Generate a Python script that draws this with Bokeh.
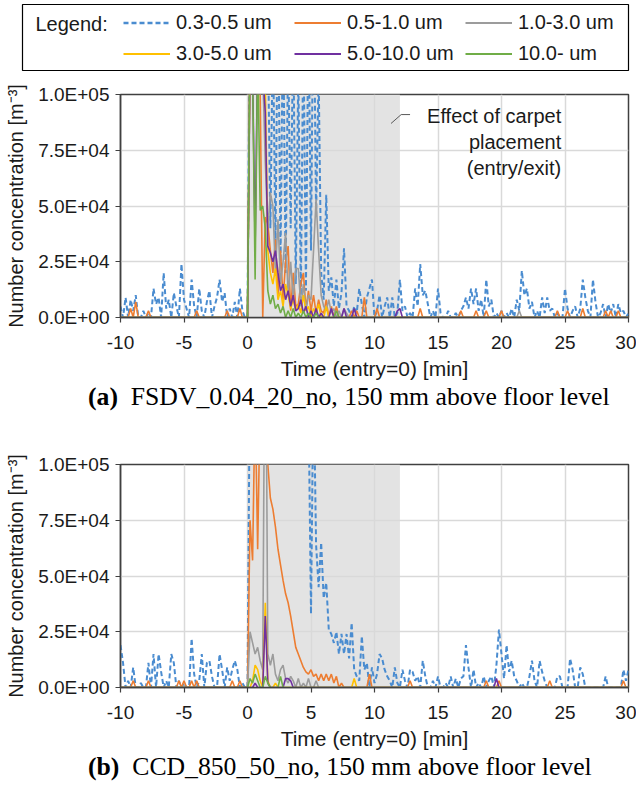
import numpy as np
from bokeh.plotting import figure
from bokeh.models import (ColumnDataSource, FixedTicker, Legend, LegendItem,
                          Label, Range1d, Div)
from bokeh.layouts import column
from bokeh.embed import file_html
from bokeh.resources import INLINE

# ---------------- data (values in thousands of particles per m3) -------------
T_START = -10.0   # min
T_STEP = 0.2      # min, sampling interval
N = 201

series_names = ["0.3-0.5 um", "0.5-1.0 um", "1.0-3.0 um",
                "3.0-5.0 um", "5.0-10.0 um", "10.0- um"]
series_colors = ["#4A8CD0", "#ED7D31", "#9C9C9C", "#FFC000", "#7030A0", "#70AD47"]
series_dash = ["5 3", "solid", "solid", "solid", "solid", "solid"]
series_width = [2.0, 1.6, 1.6, 1.6, 1.6, 1.6]

x_ticks = [-10, -5, 0, 5, 10, 15, 20, 25, 30]
x_tick_labels = ["-10", "-5", "0", "5", "10", "15", "20", "25", "30"]
y_ticks = [0, 25000, 50000, 75000, 100000]
y_tick_labels = ["0.0E+00", "2.5E+04", "5.0E+04", "7.5E+04", "1.0E+05"]

shade_start = [0]
shade_end = [12]

# ---- (a) FSDV_0.04_20_no ----
a_03_05 = [
    5, 0, 9, 0, 8, 3, 10, 0, 0, 3,
    0, 2, 0, 13, 6, 9, 0, 20, 4, 8,
    0, 11, 5, 0, 24, 8, 4, 0, 17, 5,
    0, 13, 3, 0, 7, 12, 0, 5, 9, 17,
    7, 11, 0, 4, 0, 7, 0, 13, 3, 0,
    0, 150, 200, 180, 160, 150, 170, 140, 130, 40,
    130, 32, 150, 25, 140, 20, 120, 40, 130, 15,
    110, 10, 130, 12, 140, 30, 160, 45, 110, 20,
    8, 55, 12, 18, 5, 17, 4, 11, 31, 5,
    3, 0, 5, 2, 13, 6, 0, 9, 13, 17,
    0, 3, 10, 0, 5, 9, 0, 9, 0, 2,
    17, 3, 5, 0, 2, 0, 13, 5, 24, 10,
    12, 6, 0, 3, 0, 13, 2, 0, 0, 3,
    0, 0, 2, 0, 3, 5, 9, 4, 13, 6,
    13, 3, 8, 0, 17, 5, 8, 0, 2, 0,
    3, 0, 2, 0, 4, 0, 8, 3, 21, 10,
    13, 4, 7, 0, 3, 0, 9, 2, 9, 3,
    4, 0, 2, 0, 0, 13, 4, 0, 3, 5,
    0, 4, 17, 9, 3, 0, 17, 7, 0, 2,
    6, 0, 6, 2, 6, 0, 6, 2, 3, 0,
    2]
a_05_10 = [
    0, 0, 0, 0, 4, 0, 7, 0, 0, 0,
    0, 3, 0, 0, 0, 0, 0, 0, 0, 0,
    0, 0, 0, 0, 0, 0, 0, 0, 0, 0,
    3, 0, 0, 0, 0, 0, 0, 0, 0, 0,
    0, 0, 3, 0, 0, 0, 0, 4, 0, 0,
    0, 120, 150, 130, 110, 100, 0, 45, 42, 30,
    20, 35, 10, 30, 8, 25, 32, 3, 20, 5,
    6, 15, 20, 4, 12, 3, 10, 2, 8, 3,
    2, 8, 0, 5, 0, 5, 0, 0, 0, 0,
    0, 3, 0, 3, 0, 0, 9, 0, 0, 0,
    0, 4, 0, 0, 0, 0, 0, 0, 0, 0,
    0, 0, 0, 0, 0, 0, 0, 0, 4, 0,
    0, 0, 0, 0, 0, 0, 0, 0, 0, 0,
    0, 0, 0, 0, 3, 0, 0, 0, 0, 0,
    3, 0, 0, 0, 3, 0, 0, 0, 0, 0,
    3, 0, 0, 0, 0, 0, 0, 0, 0, 0,
    0, 0, 0, 0, 0, 0, 0, 0, 0, 0,
    0, 0, 3, 0, 0, 0, 3, 0, 0, 0,
    0, 0, 4, 0, 0, 0, 0, 0, 0, 0,
    0, 3, 0, 3, 0, 0, 3, 0, 0, 0,
    0]
a_10_30 = [
    0, 0, 0, 0, 0, 0, 0, 0, 0, 0,
    0, 0, 0, 0, 0, 0, 0, 0, 0, 0,
    0, 0, 0, 0, 0, 0, 0, 0, 0, 0,
    0, 0, 0, 0, 0, 0, 0, 0, 0, 0,
    0, 0, 0, 0, 0, 0, 0, 0, 0, 0,
    0, 110, 130, 120, 105, 100, 110, 70, 40, 56,
    50, 20, 44, 15, 25, 38, 10, 25, 8, 22,
    22, 5, 15, 3, 10, 8, 30, 53, 30, 10,
    5, 3, 8, 2, 4, 0, 3, 0, 4, 2,
    0, 0, 0, 0, 0, 0, 0, 0, 0, 0,
    0, 0, 0, 0, 0, 0, 0, 0, 0, 0,
    0, 0, 0, 0, 0, 0, 0, 0, 0, 0,
    0, 0, 0, 0, 0, 0, 0, 0, 0, 0,
    0, 0, 0, 0, 0, 0, 0, 0, 0, 0,
    0, 0, 0, 0, 0, 0, 0, 0, 0, 0,
    0, 0, 0, 0, 0, 0, 0, 3, 0, 0,
    0, 0, 0, 0, 0, 0, 0, 0, 0, 0,
    0, 0, 0, 0, 0, 0, 0, 0, 0, 0,
    0, 0, 0, 0, 0, 0, 0, 0, 0, 0,
    0, 0, 0, 0, 0, 0, 0, 0, 0, 0,
    0]
a_30_50 = [
    0, 0, 0, 0, 0, 0, 0, 0, 0, 0,
    0, 0, 0, 0, 0, 0, 0, 0, 0, 0,
    0, 0, 0, 0, 0, 0, 0, 0, 0, 0,
    0, 0, 0, 0, 0, 0, 0, 0, 0, 0,
    0, 0, 0, 0, 0, 0, 0, 0, 0, 0,
    0, 120, 140, 110, 100, 115, 120, 105, 30, 20,
    15, 22, 8, 12, 5, 15, 10, 4, 8, 3,
    6, 2, 10, 3, 5, 0, 4, 2, 6, 0,
    0, 5, 0, 0, 0, 0, 0, 0, 0, 0,
    0, 0, 0, 0, 0, 0, 0, 0, 0, 0,
    0, 0, 0, 0, 0, 0, 0, 0, 0, 0,
    0, 0, 0, 0, 0, 0, 0, 0, 0, 0,
    0, 0, 0, 0, 0, 0, 0, 0, 0, 0,
    0, 0, 0, 0, 0, 0, 0, 0, 0, 0,
    0, 0, 0, 0, 0, 0, 0, 0, 0, 0,
    0, 0, 0, 0, 0, 0, 0, 0, 0, 0,
    0, 0, 0, 0, 0, 0, 0, 0, 0, 0,
    0, 0, 0, 0, 0, 0, 0, 0, 0, 0,
    0, 0, 0, 0, 0, 0, 0, 0, 0, 0,
    0, 0, 0, 0, 0, 0, 0, 0, 0, 0,
    0]
a_50_100 = [
    0, 0, 0, 0, 0, 0, 0, 0, 0, 0,
    0, 0, 0, 0, 0, 0, 0, 0, 0, 0,
    0, 0, 0, 0, 0, 0, 0, 0, 0, 0,
    0, 0, 0, 0, 0, 0, 0, 0, 0, 0,
    0, 0, 0, 0, 0, 0, 0, 0, 0, 0,
    0, 120, 110, 32, 120, 130, 110, 92, 32, 29,
    25, 30, 20, 12, 15, 8, 12, 5, 10, 3,
    4, 8, 2, 5, 0, 3, 0, 4, 0, 2,
    0, 0, 0, 4, 0, 0, 0, 0, 4, 0,
    0, 0, 4, 0, 0, 0, 0, 0, 0, 0,
    0, 0, 0, 0, 0, 0, 0, 0, 0, 3,
    4, 0, 0, 0, 0, 0, 0, 0, 0, 0,
    0, 0, 0, 0, 0, 0, 0, 0, 0, 0,
    0, 0, 0, 0, 0, 0, 0, 0, 0, 0,
    0, 0, 0, 0, 0, 0, 0, 0, 0, 0,
    0, 0, 0, 0, 0, 0, 0, 0, 0, 0,
    0, 0, 0, 0, 0, 0, 0, 0, 0, 0,
    0, 0, 0, 0, 0, 0, 0, 0, 0, 0,
    0, 0, 0, 0, 0, 0, 0, 0, 0, 0,
    0, 0, 0, 0, 0, 0, 0, 0, 0, 0,
    0]
a_100_up = [
    0, 0, 0, 0, 0, 0, 0, 0, 0, 0,
    0, 0, 0, 0, 0, 0, 0, 0, 0, 0,
    0, 0, 0, 0, 0, 0, 0, 0, 0, 0,
    0, 0, 0, 0, 0, 0, 0, 0, 0, 0,
    0, 0, 0, 0, 0, 0, 0, 0, 0, 0,
    0, 130, 110, 17, 120, 48, 50, 40, 12, 6,
    10, 4, 6, 2, 5, 0, 3, 0, 4, 0,
    2, 0, 3, 0, 2, 0, 0, 2, 0, 0,
    0, 0, 0, 0, 0, 3, 0, 0, 0, 0,
    0, 0, 0, 0, 0, 0, 0, 0, 0, 0,
    0, 0, 0, 0, 0, 0, 0, 0, 0, 0,
    0, 0, 0, 0, 0, 0, 0, 0, 0, 0,
    0, 0, 0, 0, 0, 0, 0, 0, 0, 0,
    0, 0, 0, 0, 0, 0, 0, 0, 0, 0,
    0, 0, 0, 0, 0, 0, 0, 0, 0, 0,
    0, 0, 0, 0, 0, 0, 0, 0, 0, 0,
    0, 0, 0, 0, 0, 0, 0, 0, 0, 0,
    0, 0, 0, 0, 0, 0, 0, 0, 0, 0,
    0, 0, 0, 0, 0, 0, 0, 0, 0, 0,
    0, 0, 0, 0, 0, 0, 0, 0, 0, 0,
    0]

# ---- (b) CCD_850_50_no ----
b_03_05 = [
    19, 11, 0, 3, 0, 9, 0, 0, 2, 0,
    0, 11, 0, 15, 0, 15, 7, 0, 3, 0,
    15, 11, 0, 3, 0, 2, 0, 0, 22, 6,
    0, 3, 15, 0, 11, 12, 5, 0, 0, 15,
    8, 0, 9, 3, 8, 12, 8, 0, 2, 0,
    0, 150, 200, 200, 200, 200, 200, 200, 200, 200,
    200, 200, 200, 200, 200, 200, 200, 200, 200, 200,
    200, 200, 200, 200, 130, 33, 140, 64, 45, 65,
    40, 47, 26, 24, 20, 25, 15, 24, 15, 24,
    13, 29, 8, 5, 3, 23, 8, 11, 0, 9,
    2, 6, 15, 13, 8, 5, 3, 0, 9, 2,
    0, 8, 3, 0, 8, 7, 3, 5, 0, 12,
    5, 0, 0, 3, 0, 5, 0, 0, 2, 0,
    5, 0, 4, 0, 4, 5, 19, 9, 0, 8,
    0, 2, 0, 5, 0, 3, 5, 0, 10, 26,
    15, 4, 19, 7, 12, 5, 3, 0, 2, 0,
    0, 5, 12, 3, 0, 12, 7, 3, 0, 0,
    0, 0, 5, 5, 0, 0, 0, 13, 8, 0,
    0, 9, 6, 0, 0, 0, 0, 0, 0, 0,
    0, 5, 0, 0, 0, 0, 0, 0, 8, 3,
    8]
b_05_10 = [
    0, 0, 0, 0, 0, 3, 0, 0, 0, 0,
    0, 3, 0, 0, 0, 0, 0, 0, 0, 0,
    0, 0, 0, 3, 0, 3, 0, 0, 3, 0,
    3, 0, 0, 0, 0, 0, 0, 0, 0, 0,
    0, 0, 0, 0, 3, 0, 0, 3, 0, 0,
    0, 75, 57, 130, 62, 130, 120, 110, 100, 85,
    80, 72, 62, 55, 48, 42, 38, 32, 25, 18,
    15, 12, 9, 7, 6, 8, 5, 6, 3, 6,
    3, 6, 3, 6, 2, 5, 0, 2, 0, 0,
    0, 0, 0, 0, 0, 0, 0, 0, 6, 0,
    0, 0, 0, 0, 0, 0, 0, 0, 0, 0,
    0, 0, 0, 0, 3, 0, 0, 0, 0, 0,
    0, 0, 0, 0, 0, 0, 0, 0, 0, 0,
    0, 0, 0, 0, 0, 0, 0, 0, 0, 0,
    0, 0, 0, 0, 3, 0, 0, 0, 0, 3,
    0, 0, 0, 0, 0, 0, 0, 0, 0, 0,
    0, 0, 0, 0, 0, 0, 0, 0, 0, 3,
    0, 0, 0, 0, 0, 0, 0, 0, 0, 0,
    0, 0, 0, 0, 0, 0, 0, 0, 0, 0,
    0, 0, 0, 0, 0, 0, 0, 0, 3, 0,
    0]
b_10_30 = [
    0, 0, 0, 0, 0, 0, 0, 0, 0, 0,
    0, 0, 0, 0, 0, 0, 0, 0, 0, 0,
    0, 0, 0, 0, 0, 0, 0, 0, 0, 0,
    0, 0, 0, 0, 0, 0, 0, 0, 0, 0,
    0, 0, 0, 0, 0, 0, 0, 0, 0, 0,
    0, 25, 20, 15, 18, 12, 8, 200, 15, 10,
    15, 6, 3, 8, 10, 4, 2, 5, 3, 0,
    4, 0, 2, 0, 4, 0, 0, 3, 0, 0,
    0, 0, 0, 0, 0, 0, 0, 0, 0, 0,
    0, 0, 0, 0, 0, 0, 0, 0, 0, 0,
    0, 0, 0, 0, 0, 0, 0, 0, 0, 0,
    0, 0, 0, 0, 0, 0, 0, 0, 0, 0,
    0, 0, 0, 0, 0, 0, 0, 0, 0, 0,
    0, 0, 0, 0, 0, 0, 0, 0, 0, 0,
    0, 0, 0, 0, 0, 0, 0, 0, 0, 0,
    0, 0, 0, 0, 0, 0, 0, 0, 0, 0,
    0, 0, 0, 0, 0, 0, 0, 0, 0, 0,
    0, 0, 0, 0, 0, 0, 0, 0, 0, 0,
    0, 0, 0, 0, 0, 0, 0, 0, 0, 0,
    0, 0, 0, 0, 0, 0, 0, 0, 0, 0,
    0]
b_30_50 = [
    0, 0, 0, 0, 0, 0, 0, 0, 0, 0,
    0, 0, 0, 0, 0, 0, 0, 0, 0, 0,
    0, 0, 0, 0, 0, 0, 0, 0, 0, 0,
    0, 0, 0, 0, 0, 0, 0, 0, 0, 0,
    0, 0, 0, 0, 0, 0, 0, 0, 0, 0,
    0, 0, 3, 10, 8, 3, 0, 38, 3, 0,
    0, 2, 0, 0, 0, 0, 0, 0, 0, 0,
    0, 0, 0, 0, 0, 0, 0, 0, 0, 0,
    0, 0, 0, 0, 0, 0, 0, 0, 0, 0,
    0, 0, 4, 0, 0, 0, 0, 0, 0, 0,
    0, 0, 0, 0, 0, 0, 0, 0, 0, 0,
    0, 0, 0, 0, 0, 0, 0, 0, 0, 0,
    0, 0, 0, 0, 0, 0, 0, 0, 0, 0,
    0, 0, 0, 0, 0, 0, 0, 0, 0, 0,
    0, 0, 0, 0, 0, 0, 0, 0, 0, 0,
    0, 0, 0, 0, 0, 0, 0, 0, 0, 0,
    0, 0, 0, 0, 0, 0, 0, 0, 0, 0,
    0, 0, 0, 0, 0, 0, 0, 0, 0, 0,
    0, 0, 0, 0, 0, 0, 0, 0, 0, 0,
    0, 0, 0, 0, 0, 0, 0, 0, 0, 0,
    0]
b_50_100 = [
    0, 0, 0, 0, 0, 0, 0, 0, 0, 0,
    0, 0, 0, 0, 0, 0, 0, 0, 0, 0,
    0, 0, 0, 0, 0, 0, 0, 0, 0, 0,
    0, 0, 0, 0, 0, 0, 0, 0, 0, 0,
    0, 0, 0, 0, 0, 0, 0, 0, 0, 0,
    0, 0, 0, 2, 0, 0, 0, 32, 2, 0,
    0, 0, 0, 0, 0, 4, 4, 3, 0, 0,
    0, 0, 0, 0, 0, 0, 0, 0, 0, 0,
    0, 0, 0, 0, 0, 0, 0, 0, 0, 0,
    0, 0, 0, 0, 0, 0, 0, 0, 0, 0,
    0, 0, 0, 0, 0, 0, 0, 0, 0, 0,
    0, 0, 0, 0, 0, 0, 0, 0, 0, 0,
    0, 0, 0, 0, 0, 0, 0, 0, 0, 0,
    0, 0, 0, 0, 0, 0, 0, 0, 0, 0,
    0, 0, 0, 0, 0, 0, 0, 0, 4, 0,
    0, 0, 0, 0, 0, 0, 0, 0, 0, 0,
    0, 0, 0, 0, 0, 0, 0, 0, 0, 0,
    0, 0, 0, 0, 0, 0, 0, 0, 0, 0,
    0, 0, 0, 0, 0, 0, 0, 0, 0, 0,
    0, 0, 0, 0, 0, 0, 0, 0, 0, 0,
    0]
b_100_up = [
    0, 0, 0, 0, 0, 0, 0, 0, 0, 0,
    0, 0, 0, 0, 0, 0, 0, 0, 0, 0,
    0, 0, 0, 0, 0, 0, 0, 0, 0, 0,
    0, 0, 0, 0, 0, 0, 0, 0, 0, 0,
    0, 0, 0, 0, 0, 0, 0, 0, 0, 0,
    0, 4, 2, 6, 3, 0, 0, 5, 2, 0,
    0, 0, 0, 5, 0, 0, 0, 0, 0, 0,
    0, 0, 0, 0, 0, 0, 0, 0, 0, 0,
    0, 0, 0, 0, 0, 0, 0, 0, 0, 0,
    0, 0, 0, 0, 0, 0, 0, 0, 0, 0,
    0, 0, 0, 0, 0, 0, 0, 0, 0, 0,
    0, 0, 0, 0, 0, 0, 0, 0, 0, 0,
    0, 0, 0, 0, 0, 0, 0, 0, 0, 0,
    0, 0, 0, 0, 0, 0, 0, 0, 0, 0,
    0, 0, 0, 0, 0, 0, 0, 0, 0, 0,
    0, 0, 0, 0, 0, 0, 0, 0, 0, 0,
    0, 0, 0, 0, 0, 0, 0, 0, 0, 0,
    0, 0, 0, 0, 0, 0, 0, 0, 0, 0,
    0, 0, 0, 0, 0, 0, 0, 0, 0, 0,
    0, 0, 0, 0, 0, 0, 0, 0, 0, 0,
    0]

chart_a = [a_03_05, a_05_10, a_10_30, a_30_50, a_50_100, a_100_up]
chart_b = [b_03_05, b_05_10, b_10_30, b_30_50, b_50_100, b_100_up]
for s in chart_a + chart_b:
    assert len(s) == N, len(s)

note_text = "Effect of carpet\nplacement\n(entry/exit)"
leader_t = [11.3, 12.1, 12.8]
leader_v = [87000, 91000, 91000]

caption_a = ("(a)", "FSDV_0.04_20_no, 150 mm above floor level")
caption_b = ("(b)", "CCD_850_50_no, 150 mm above floor level")

SANS = "Liberation Sans"
SERIF = "Liberation Serif"
DARK = "#404040"
TXT = "#1a1a1a"


def make_chart(data, height, top, bottom, note=False):
    p = figure(width=636, height=height, x_range=Range1d(-10, 30),
               y_range=Range1d(0, 100000), output_backend="svg",
               toolbar_location=None, min_border_left=120, min_border_right=8,
               min_border_top=top, min_border_bottom=bottom)
    p.quad(left=shade_start, right=shade_end, bottom=[y_ticks[0]], top=[y_ticks[-1]],
           fill_color="#E3E3E3", line_color=None, level="image")
    t = T_START + T_STEP * np.arange(N)
    for vals, col, dash, w in zip(data, series_colors, series_dash, series_width):
        src = ColumnDataSource(dict(t=t, v=np.array(vals, dtype=float) * 1000.0))
        p.line("t", "v", source=src, line_color=col, line_width=w, line_dash=dash)

    p.xaxis.ticker = FixedTicker(ticks=x_ticks)
    p.xaxis.major_label_overrides = {v: s for v, s in zip(x_ticks, x_tick_labels)}
    p.yaxis.ticker = FixedTicker(ticks=y_ticks)
    p.yaxis.major_label_overrides = {v: s for v, s in zip(y_ticks, y_tick_labels)}
    p.grid.grid_line_color = "#D9D9D9"
    p.grid.grid_line_width = 1.5
    p.axis.axis_line_color = DARK
    p.axis.axis_line_width = 1.5
    p.axis.major_tick_line_color = DARK
    p.axis.major_tick_line_width = 1.2
    p.axis.major_tick_out = 5
    p.axis.major_tick_in = 0
    p.axis.minor_tick_line_color = None
    p.axis.major_label_text_font = SANS
    p.axis.major_label_text_font_size = "19px"
    p.axis.major_label_text_color = TXT
    p.yaxis.major_label_standoff = 6
    p.xaxis.major_label_standoff = 13
    p.axis.axis_label_text_font = SANS
    p.axis.axis_label_text_font_style = "normal"
    p.axis.axis_label_text_color = TXT
    p.xaxis.axis_label = "Time (entry=0) [min]"
    p.xaxis.axis_label_text_font_size = "21px"
    p.xaxis.axis_label_standoff = 5
    p.yaxis.axis_label = "Number concentration [m\u207b\u00b3]"
    p.yaxis.axis_label_text_font_size = "20px"
    p.yaxis.axis_label_standoff = 8
    p.outline_line_color = DARK
    p.outline_line_width = 1.5
    p.outline_line_alpha = 1.0

    if note:
        p.line(leader_t, leader_v, line_color="#595959", line_width=1)
        p.add_layout(Label(x=24.7, y=95500, text=note_text, text_align="right",
                           text_baseline="top", text_font=SANS,
                           text_font_size="20px", text_color=TXT,
                           text_line_height=1.2))
    return p


def make_caption(cap, height):
    tag, rest = cap
    html = ('<div style="font-family:\'Liberation Serif\',serif;font-size:25.7px;'
            'line-height:30px;margin-left:88px;white-space:nowrap;color:#000">'
            '<b>%s</b>&nbsp;&nbsp;%s</div>' % (tag, rest))
    return Div(text=html, width=636, height=height, margin=0)


# ---------------- legend box ----------------
leg = figure(width=636, height=74, output_backend="svg", toolbar_location=None,
             x_axis_location=None, y_axis_location=None,
             x_range=Range1d(0, 1), y_range=Range1d(0, 1),
             min_border_left=22, min_border_right=8, min_border_top=4,
             min_border_bottom=4)
if "frame_align" in leg.properties():
    leg.frame_align = False
leg.grid.visible = False
leg.outline_line_color = "black"
leg.outline_line_width = 1.2
items = []
for name, col, dash, w in zip(series_names, series_colors, series_dash, series_width):
    r = leg.line(x=[float("nan")], y=[float("nan")], line_color=col,
                 line_width=w + 0.6, line_dash=dash)
    items.append(LegendItem(label=name, renderers=[r]))
legend = Legend(items=items, ncols=3, orientation="horizontal", location=(101, 5),
                padding=0, margin=0, spacing=8, glyph_width=47, glyph_height=19,
                label_height=19, label_width=110, label_standoff=6,
                label_text_font=SANS, label_text_font_size="20px",
                label_text_color=TXT, border_line_color=None,
                background_fill_alpha=0)
leg.add_layout(legend)
leg.add_layout(Label(x=13, y=47, x_units="screen", y_units="screen", text="Legend:",
                     text_font=SANS, text_font_size="20px", text_color=TXT,
                     text_baseline="middle"))

p1 = make_chart(chart_a, 308, 20, 64, note=True)
p2 = make_chart(chart_b, 312, 24, 64)
cap1 = make_caption(caption_a, 58)
cap2 = make_caption(caption_b, 41)

layout = column(leg, column(p1, cap1, p2, cap2, spacing=0), spacing=0)
open("out.html", "w").write(file_html(layout, INLINE))
